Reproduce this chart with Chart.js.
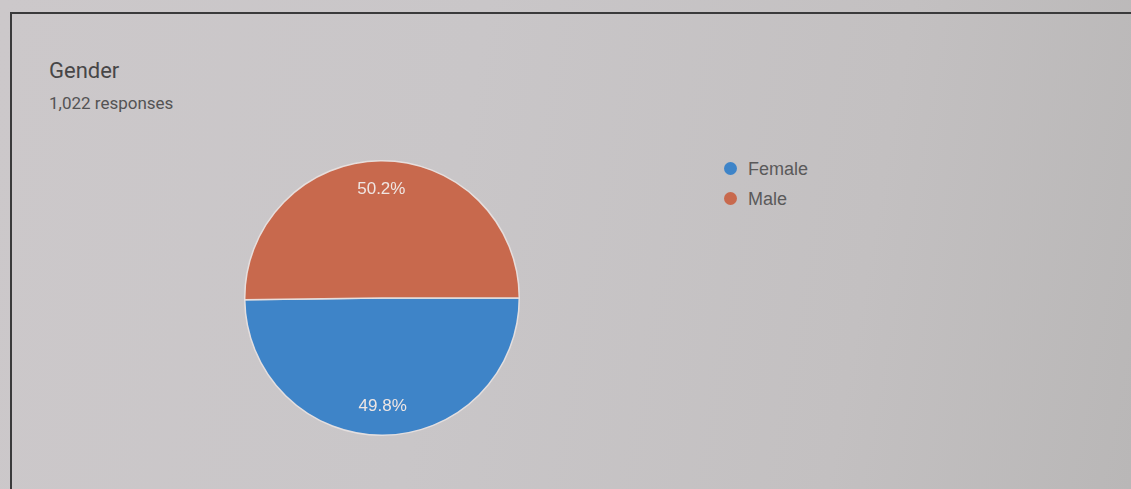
<!DOCTYPE html>
<html>
<head>
<meta charset="utf-8">
<script src="https://cdn.jsdelivr.net/npm/chart.js@4/dist/chart.umd.min.js"></script>
<style>
  html, body { margin: 0; padding: 0; }
  body {
    width: 1131px; height: 489px; overflow: hidden; position: relative;
    background: linear-gradient(100deg, #ccc8ca 0%, #c9c6c8 40%, #c3c0c1 75%, #b9b7b7 100%);
  }
  #frame {
    position: absolute; left: 10px; top: 12px; width: 1200px; height: 600px;
    border: 2px solid #3a3a3b; box-sizing: border-box;
  }
  #title {
    position: absolute; left: 49px; top: 60px; font-family: Roboto, sans-serif;
    font-size: 22px; line-height: 22px; color: #474647; white-space: nowrap;
  }
  #subtitle {
    position: absolute; left: 49px; top: 95px; font-family: Roboto, sans-serif;
    font-size: 17px; line-height: 17px; color: #545354; white-space: nowrap;
  }
  #pieBox { position: absolute; left: 244px; top: 160px; width: 276px; height: 276px; }
  .leg { position: absolute; left: 724px; height: 18px; white-space: nowrap;
         font-family: "Liberation Sans", Arial, sans-serif; font-size: 18px; line-height: 18px; color: #5a595a; }
  .leg .dot { position: absolute; left: 0; top: 2px; width: 13px; height: 13px; border-radius: 50%; }
  .leg .txt { position: absolute; left: 24px; top: 0; }
</style>
</head>
<body>
<div id="frame"></div>
<div id="title"></div>
<div id="subtitle"></div>
<div id="pieBox"><canvas id="c"></canvas></div>
<div id="legend"></div>
<script>
const title = 'Gender';
const categories = ['Female', 'Male'];
const responses = [509, 513];
const colors = ['#3e84c8', '#c8694d'];

const total = responses.reduce((a, b) => a + b, 0);
document.getElementById('title').textContent = title;
document.getElementById('subtitle').textContent = total.toLocaleString('en-US') + ' responses';

// HTML legend built from the arrays
const legend = document.getElementById('legend');
const legendTops = [160, 190];
categories.forEach((name, i) => {
  const d = document.createElement('div');
  d.className = 'leg';
  d.style.top = legendTops[i] + 'px';
  d.innerHTML = '<span class="dot" style="background:' + colors[i] + '"></span><span class="txt"></span>';
  d.querySelector('.txt').textContent = name;
  legend.appendChild(d);
});

const pctLabels = {
  id: 'pctLabels',
  afterDatasetsDraw(chart) {
    const ctx = chart.ctx;
    const meta = chart.getDatasetMeta(0);
    const data = chart.data.datasets[0].data;
    const sum = data.reduce((a, b) => a + b, 0);
    ctx.save();
    ctx.font = '17px "Liberation Sans", Arial, sans-serif';
    ctx.fillStyle = '#efe6e3';
    ctx.textAlign = 'center';
    ctx.textBaseline = 'middle';
    meta.data.forEach((arc, i) => {
      const p = arc.getProps(['x', 'y', 'startAngle', 'endAngle', 'outerRadius'], true);
      const mid = (p.startAngle + p.endAngle) / 2;
      const r = p.outerRadius * 0.79;
      const txt = (data[i] / sum * 100).toFixed(1) + '%';
      ctx.fillText(txt, p.x + Math.cos(mid) * r, p.y + Math.sin(mid) * r);
    });
    ctx.restore();
  }
};

new Chart(document.getElementById('c'), {
  type: 'pie',
  data: {
    labels: categories,
    datasets: [{
      data: responses,
      backgroundColor: colors,
      borderColor: 'rgba(232,226,224,0.95)',
      borderWidth: 1.5
    }]
  },
  options: {
    responsive: true,
    maintainAspectRatio: false,
    animation: false,
    rotation: 90,
    layout: { padding: 0 },
    plugins: {
      legend: { display: false },
      tooltip: { enabled: false },
      title: { display: false }
    }
  },
  plugins: [pctLabels]
});
</script>
</body>
</html>
